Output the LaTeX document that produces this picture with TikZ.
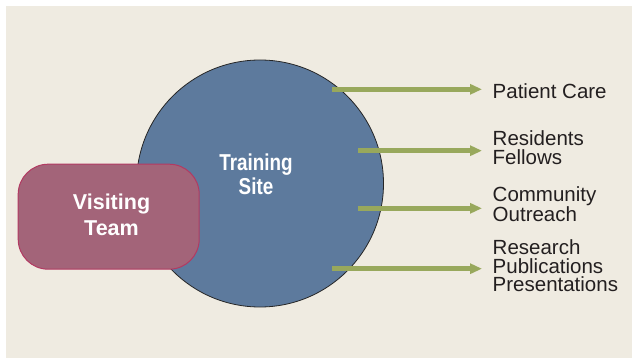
\documentclass[tikz,border=0pt]{standalone}
\usepackage{fontspec}
\setmainfont{Liberation Sans}
\newfontfamily\narrowsans[FakeStretch=0.82]{Liberation Sans}
\usetikzlibrary{arrows.meta}
\definecolor{bgc}{HTML}{EFEBE1}
\definecolor{sitec}{HTML}{5D7A9D}
\definecolor{teamc}{HTML}{A36479}
\definecolor{teamb}{HTML}{B23A62}
\definecolor{arrc}{HTML}{98A85C}
\definecolor{txtc}{HTML}{231F20}
\begin{document}
\begin{tikzpicture}[x=1pt,y=-1pt,
  lbl/.style={anchor=base west, inner sep=0pt, align=left, text=txtc,
    font=\fontsize{20.5}{18.4}\selectfont},
  arr/.style={draw=arrc, line width=4.7pt,
    -{Triangle[length=12pt,width=10pt]}, shorten >=10.5pt},
  whitetxt/.style={inner sep=0pt, align=center, text=white, anchor=base}]
\useasboundingbox (0,0) rectangle (632,358);
\fill[white] (0,0) rectangle (632,358);
\fill[bgc] (6,6) rectangle (632,358);
\node[circle, draw=black!85, line width=0.8pt, fill=sitec, minimum size=247pt, inner sep=0pt] (site) at (260,183.5) {};
\node[whitetxt, font=\narrowsans\bfseries\fontsize{23}{24.5}\selectfont] (sitetxt) at (256,195) {Training\\Site};
\node[rectangle, rounded corners=30pt, draw=teamb, line width=1pt, fill=teamc, minimum width=181pt, minimum height=105pt, inner sep=0pt] (team) at (108.7,216.7) {};
\node[whitetxt, font=\bfseries\fontsize{21.5}{25.7}\selectfont] (teamtxt) at (111.5,235.7) {Visiting\\Team};
\node[lbl] (pc) at (492.5,98.7) {Patient Care};
\node[lbl] (rf) at (492.5,164.3) {Residents\\Fellows};
\node[lbl] (co) at (492.5,221.7) {Community\\Outreach};
\node[lbl] (rp) at (492.5,291.7) {Research\\Publications\\Presentations};
\coordinate (a1) at (332,89.3);
\coordinate (a2) at (358,150.7);
\coordinate (a3) at (358,208.3);
\coordinate (a4) at (332,268.7);
\draw[arr] (a1) -- (a1 -| pc.west);
\draw[arr] (a2) -- (a2 -| rf.west);
\draw[arr] (a3) -- (a3 -| co.west);
\draw[arr] (a4) -- (a4 -| rp.west);
\end{tikzpicture}
\end{document}
